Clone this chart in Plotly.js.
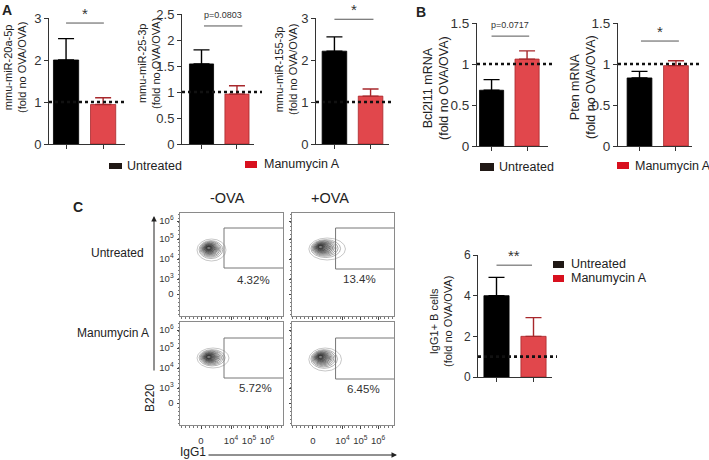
<!DOCTYPE html>
<html><head><meta charset="utf-8">
<script src="https://cdn.plot.ly/plotly-3.0.1.min.js"></script>
<style>html,body{margin:0;padding:0;background:#fff}</style>
</head><body><div id="chart" style="width:709px;height:460px"></div>
<script>
// ---------------- DATA ----------------
const groups = ['Untreated', 'Manumycin A'];
const groupColors = ['#000000', '#E1474C'];
const groupLineColors = ['#000000', '#A8282C'];

const miR20a = [2.0, 0.94];     const miR20aErr = [0.51, 0.16];
const miR25 = [1.54, 0.96];     const miR25Err = [0.27, 0.16];
const miR155 = [2.21, 1.14];    const miR155Err = [0.34, 0.17];
const bcl2l11 = [0.68, 1.06];   const bcl2l11Err = [0.13, 0.10];
const pten = [0.83, 0.98];      const ptenErr = [0.08, 0.06];
const igg1B = [4.0, 2.0];       const igg1BErr = [0.9, 0.92];

const refLevel = 1; // dotted no-OVA/OVA reference
const sigLevels = [2.88, 2.27, 2.97, 1.34, 1.28, 5.5];
const sigLabels = ['*', 'p=0.0803', '*', 'p=0.0717', '*', '**'];

const ticks3 = [0, 1, 2, 3];
const ticks25 = [0, 0.5, 1, 1.5, 2, 2.5];
const ticks15 = [0, 0.5, 1, 1.5];
const ticks6 = [0, 2, 4, 6];

// flow cytometry panels (order: -OVA/Untreated, +OVA/Untreated, -OVA/Manumycin, +OVA/Manumycin)
const facsPercent = ['4.32%', '13.4%', '5.72%', '6.45%'];
const facsColumns = ['-OVA', '+OVA'];
const facsRows = ['Untreated', 'Manumycin A'];
const facsXTickVals = [0, 1.5, 2.4, 3.3];
const facsXTickText = ['0', '10<sup>4</sup>', '10<sup>5</sup>', '10<sup>6</sup>'];
const facsYTickVals = [0, 0.75, 1.75, 2.75, 3.65];
const facsYTickText = ['0', '10<sup>3</sup>', '10<sup>4</sup>', '10<sup>5</sup>', '10<sup>6</sup>'];
const blobCoreX = [0.4, 0.4, 0.4, 0.4];
const blobCoreY = [2.3, 2.35, 2.3, 2.3];
const blobX0 = [-0.2, -0.2, -0.2, -0.2];
const blobX1 = [1.25, 1.65, 1.4, 1.45];
const blobY0 = [1.65, 1.7, 1.75, 1.6];
const blobY1 = [2.75, 2.8, 2.75, 2.75];
const gateX0 = [1.15, 1.15, 1.15, 1.15];
const gateY0 = [1.3, 1.25, 1.25, 1.2];
const gateY1 = [3.3, 3.3, 3.25, 3.25];
const pctX = [2.6, 2.35, 2.7, 2.55];
const pctY = [0.7, 0.75, 0.75, 0.7];

// ---------------- LAYOUT HELPERS ----------------
const W = 709, H = 460;
const fx = p => p / W;
const fy = p => 1 - p / H;
const FONT = 'Liberation Sans, Arial, sans-serif';
const TXT = '#222';

const barPanels = [
  {vals: miR20a, err: miR20aErr, ticks: ticks3, yMax: 3, px: [49, 125, 18, 144], xr: [-0.46, 1.59], dot: [49, 125],
   title: 'mmu-miR-20a-5p<br>(fold no OVA/OVA)', tpos: [15, 68], tsize: 11, tick: 13, sigX: [0, 1.02]},
  {vals: miR25, err: miR25Err, ticks: ticks25, yMax: 2.5, px: [182, 254, 14, 144], xr: [-0.55, 1.48], dot: [182, 262],
   title: 'mmu-miR-25-3p<br>(fold no OVA/OVA)', tpos: [149, 64], tsize: 11, tick: 13, sigX: [0.07, 1.15]},
  {vals: miR155, err: miR155Err, ticks: ticks3, yMax: 3, px: [316, 389, 18, 144], xr: [-0.51, 1.51], dot: [316, 393],
   title: 'mmu-miR-155-3p<br>(fold no OVA/OVA)', tpos: [286, 70], tsize: 11, tick: 13, sigX: [0, 1.08]},
  {vals: bcl2l11, err: bcl2l11Err, ticks: ticks15, yMax: 1.5, px: [477, 548, 23, 146], xr: [-0.41, 1.59], dot: [477, 552],
   title: 'Bcl2l11 mRNA<br>(fold no OVA/OVA)', tpos: [436, 88], tsize: 12.5, tick: 13.5, sigX: [0, 1.06]},
  {vals: pten, err: ptenErr, ticks: ticks15, yMax: 1.5, px: [618, 692, 23, 146], xr: [-0.59, 1.44], dot: [618, 700],
   title: 'Pten mRNA<br>(fold no OVA/OVA)', tpos: [583, 87], tsize: 12.5, tick: 13.5, sigX: [0.04, 1.08]},
  {vals: igg1B, err: igg1BErr, ticks: ticks6, yMax: 6, px: [478, 552, 255, 377], xr: [-0.5, 1.5], dot: [478, 557],
   title: 'IgG1+ B cells<br>(fold no OVA/OVA)', tpos: [441, 322], tsize: 11, tick: 12, sigX: [0, 0.96]}
];

const data = [];
const layout = {
  width: W, height: H, margin: {l: 0, r: 0, t: 0, b: 0},
  paper_bgcolor: '#fff', plot_bgcolor: 'rgba(0,0,0,0)',
  showlegend: false, barmode: 'overlay',
  font: {family: FONT, color: TXT},
  shapes: [], annotations: []
};
function label(x, y, text, size, extra) {
  layout.annotations.push(Object.assign({xref: 'paper', yref: 'paper', x: fx(x), y: fy(y), text: text,
    showarrow: false, xanchor: 'center', yanchor: 'middle',
    font: {size: size, color: TXT, family: FONT}}, extra || {}));
}

barPanels.forEach((p, i) => {
  const n = i + 1;
  const xa = 'x' + n, ya = 'y' + n;
  groups.forEach((g, k) => {
    data.push({
      type: 'bar', x: [g], y: [p.vals[k]], xaxis: xa, yaxis: ya, width: 0.68,
      marker: {color: groupColors[k], line: {color: groupLineColors[k], width: 0.8}},
      error_y: {type: 'data', array: [p.err[k]], arrayminus: [0], symmetric: false,
                color: groupLineColors[k], thickness: 1.4, width: 8},
      hoverinfo: 'skip', showlegend: false
    });
  });
  layout['xaxis' + n] = {
    domain: [fx(p.px[0]), fx(p.px[1])], anchor: ya, type: 'category',
    categoryorder: 'array', categoryarray: groups, range: p.xr,
    showline: true, linecolor: '#333', linewidth: 1, ticks: 'outside', ticklen: 4,
    tickcolor: '#333', showticklabels: false, showgrid: false, zeroline: false, fixedrange: true
  };
  layout['yaxis' + n] = {
    domain: [fy(p.px[3]), fy(p.px[2])], anchor: xa, range: [0, p.yMax],
    tickmode: 'array', tickvals: p.ticks, ticktext: p.ticks.map(String),
    showline: true, linecolor: '#333', linewidth: 1, ticks: 'outside', ticklen: 4,
    tickcolor: '#333', tickfont: {size: p.tick, color: '#333', family: FONT},
    showgrid: false, zeroline: false, fixedrange: true
  };
  // dotted reference line
  layout.shapes.push({type: 'line', xref: 'paper', yref: ya, x0: fx(p.dot[0]), x1: fx(p.dot[1]),
    y0: refLevel, y1: refLevel, line: {color: '#111', width: 2.6, dash: 'dot'}, layer: 'above'});
  // significance bracket
  layout.shapes.push({type: 'line', xref: xa, yref: ya, x0: p.sigX[0], x1: p.sigX[1],
    y0: sigLevels[i], y1: sigLevels[i], line: {color: '#555', width: 1}});
  const isStar = sigLabels[i].indexOf('*') === 0;
  layout.annotations.push({xref: xa, yref: ya, x: (p.sigX[0] + p.sigX[1]) / 2, y: sigLevels[i],
    text: sigLabels[i], showarrow: false, xanchor: 'center', yanchor: 'bottom',
    yshift: isStar ? -1 : 4, font: {size: isStar ? 15 : 9, color: '#333', family: FONT}});
  // y title
  label(p.tpos[0], p.tpos[1], p.title, p.tsize, {textangle: -90});
});

// ---------------- FACS PANELS ----------------
const facsPx = [[180, 283, 213, 316], [292, 394, 213, 316], [180, 283, 322, 425], [292, 394, 322, 425]];
const facsXRange = [-1.05, 4.1];
const facsYRange = [-1.1, 4.05];
facsPx.forEach((b, i) => {
  const n = 7 + i;
  const xa = 'x' + n, ya = 'y' + n;
  const bottom = i >= 2, left = i % 2 === 0;
  layout['xaxis' + n] = {
    domain: [fx(b[0]), fx(b[1])], anchor: ya, range: facsXRange,
    showline: true, mirror: true, linecolor: '#8a8a8a', linewidth: 1,
    showgrid: false, zeroline: false, fixedrange: true,
    tickmode: 'array', tickvals: facsXTickVals, ticktext: facsXTickText,
    ticks: 'outside', ticklen: 2.5, tickcolor: '#444', showticklabels: bottom,
    ticklabelstandoff: 4, tickfont: {size: 9.5, color: '#333', family: FONT},
    minor: {ticks: 'outside', ticklen: 1.5, tickcolor: '#777', tickmode: 'linear', tick0: 0, dtick: 0.2}
  };
  layout['yaxis' + n] = {
    domain: [fy(b[3]), fy(b[2])], anchor: xa, range: facsYRange,
    showline: true, mirror: true, linecolor: '#8a8a8a', linewidth: 1,
    showgrid: false, zeroline: false, fixedrange: true,
    tickmode: 'array', tickvals: facsYTickVals, ticktext: facsYTickText,
    ticks: 'outside', ticklen: 2.5, tickcolor: '#444', showticklabels: left,
    ticklabelstandoff: 1, tickfont: {size: 9.5, color: '#333', family: FONT},
    minor: {ticks: 'outside', ticklen: 1.5, tickcolor: '#777', tickmode: 'linear', tick0: 0, dtick: 0.2}
  };
  // contour population drawn as nested density contours
  const levels = 14;
  for (let k = 0; k < levels; k++) {
    const t = Math.pow(k / (levels - 1), 0.6);
    const lerp = (a, c) => a + (c - a) * t;
    const shade = Math.round(175 - 130 * t);
    layout.shapes.push({type: 'circle', xref: xa, yref: ya,
      x0: lerp(blobX0[i], blobCoreX[i] - 0.12), x1: lerp(blobX1[i], blobCoreX[i] + 0.1),
      y0: lerp(blobY0[i], blobCoreY[i] - 0.07), y1: lerp(blobY1[i], blobCoreY[i] + 0.07),
      line: {color: `rgb(${shade},${shade},${shade})`, width: 0.7},
      fillcolor: k > 3 ? 'rgba(60,60,60,0.09)' : 'rgba(0,0,0,0)'});
  }
  // gate
  layout.shapes.push({type: 'rect', xref: xa, yref: ya, x0: gateX0[i], x1: facsXRange[1] + 0.2,
    y0: gateY0[i], y1: gateY1[i], line: {color: '#777', width: 1}});
  layout.annotations.push({xref: xa, yref: ya, x: pctX[i], y: pctY[i], text: facsPercent[i],
    showarrow: false, xanchor: 'center', yanchor: 'middle', font: {size: 11.5, color: '#333', family: FONT}});
});
// column and row labels
label(227, 198, facsColumns[0], 14.5);
label(330, 198, facsColumns[1], 14.5);
label(117, 253, facsRows[0], 12);
label(113, 333, facsRows[1], 12);
label(150, 398, 'B220', 12, {textangle: -90});
label(193, 452, 'IgG1', 12);
// axis arrows
layout.annotations.push({xref: 'paper', yref: 'paper', x: fx(154), y: fy(216), ax: 0, ay: 156,
  text: '', showarrow: true, arrowhead: 2, arrowsize: 1.1, arrowwidth: 1, arrowcolor: '#222'});
layout.annotations.push({xref: 'paper', yref: 'paper', x: fx(397), y: fy(455), ax: -190, ay: 0,
  text: '', showarrow: true, arrowhead: 2, arrowsize: 1.1, arrowwidth: 1, arrowcolor: '#222'});

// ---------------- PANEL LETTERS ----------------
label(7, 10, '<b>A</b>', 14);
label(421, 12, '<b>B</b>', 14);
label(78, 207, '<b>C</b>', 14);

// ---------------- LEGENDS (swatch + text) ----------------
const legendItems = [
  // [group index, swatch x0, x1, y0, y1, text x, text y]
  [0, 109, 122, 163, 169, 125, 166],
  [1, 245, 257, 161, 168, 262, 164],
  [0, 480, 494, 163, 171, 497, 167],
  [1, 617, 629, 162, 169, 633, 166],
  [0, 553, 564, 261, 268, 569, 264],
  [1, 553, 564, 275, 282, 569, 278]
];
const legendSwatch = ['#201815', '#D8101E'];
legendItems.forEach(([g, x0, x1, y0, y1, tx, ty]) => {
  layout.shapes.push({type: 'rect', xref: 'paper', yref: 'paper', x0: fx(x0), x1: fx(x1), y0: fy(y1), y1: fy(y0),
    fillcolor: legendSwatch[g], line: {width: 0}});
  label(tx, ty, groups[g], 12.5, {xanchor: 'left'});
});

Plotly.newPlot('chart', data, layout, {staticPlot: true, displayModeBar: false});
</script></body></html>
